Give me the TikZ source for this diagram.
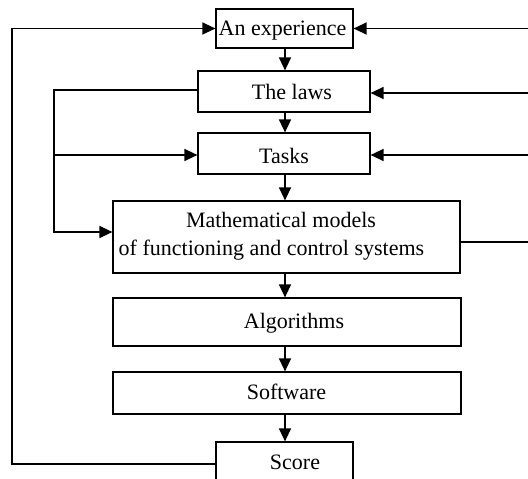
\documentclass[tikz,border=0pt]{standalone}
\usepackage{fontspec}
\setmainfont{Liberation Serif}
\usetikzlibrary{arrows.meta}
\begin{document}
\begin{tikzpicture}[x=1pt,y=-1pt,
  box/.style={draw,line width=1.2pt,inner sep=0pt},
  lbl/.style={anchor=base,inner sep=0pt,font=\fontsize{22pt}{26pt}\selectfont},
  conn/.style={line width=1.3pt},
  arr/.style={conn,-{Triangle[length=13pt,width=12pt]}}]
\useasboundingbox (0,0) rectangle (528,479);
\coordinate (spine) at (285,0);
\node[box,minimum width=137pt,minimum height=39pt] (expe) at (284.5,28.5) {};
\node[box,minimum width=172pt,minimum height=41pt] (laws) at (284,91.5) {};
\node[box,minimum width=172pt,minimum height=41pt] (tasks) at (284,153.5) {};
\node[box,minimum width=347pt,minimum height=72pt] (math) at (286.5,237) {};
\node[box,minimum width=348pt,minimum height=48pt] (algo) at (287,322) {};
\node[box,minimum width=348pt,minimum height=42pt] (soft) at (287,393) {};
\node[box,minimum width=137pt,minimum height=44pt] (score) at (284.5,464) {};
\node[lbl] (texpe) at (282.5,35) {An experience};
\node[lbl] (tlaws) at (292,99) {The laws};
\node[lbl] (ttasks) at (284,163) {Tasks};
\node[lbl] (tmath1) at (281,227) {Mathematical models};
\node[lbl] (tmath2) at (271.5,255) {of functioning and control systems};
\node[lbl] (talgo) at (294,328) {Algorithms};
\node[lbl] (tsoft) at (286.5,399) {Software};
\node[lbl] (tscore) at (295,469) {Score};
% vertical chain
\draw[arr] (expe.south -| spine) -- (laws.north -| spine);
\draw[arr] (laws.south -| spine) -- (tasks.north -| spine);
\draw[arr] (tasks.south -| spine) -- (math.north -| spine);
\draw[arr] (math.south -| spine) -- (algo.north -| spine);
\draw[arr] (algo.south -| spine) -- (soft.north -| spine);
\draw[arr] (soft.south -| spine) -- (score.north -| spine);
% outer left loop
\coordinate (ol) at (12,0);
\draw[arr] (score.west) -- (score.west -| ol) |- (expe.west);
% inner left loop
\coordinate (il) at (54,0);
\coordinate (ilt) at (54,155);
\draw[arr] ([yshift=1.5pt]laws.west) -- ([yshift=1.5pt]laws.west -| il) |- ([yshift=5pt]math.west);
\draw[arr] (ilt) -- (ilt -| tasks.west);
% right side
\coordinate (r1) at (528,28.5);
\coordinate (r2) at (528,93);
\coordinate (r3) at (528,155);
\coordinate (r4) at (528,242);
\draw[arr] (r1) -- (expe.east |- r1);
\draw[arr] (r2) -- (laws.east |- r2);
\draw[arr] (r3) -- (tasks.east |- r3);
\draw[conn] (math.east |- r4) -- (r4);
\end{tikzpicture}
\end{document}
